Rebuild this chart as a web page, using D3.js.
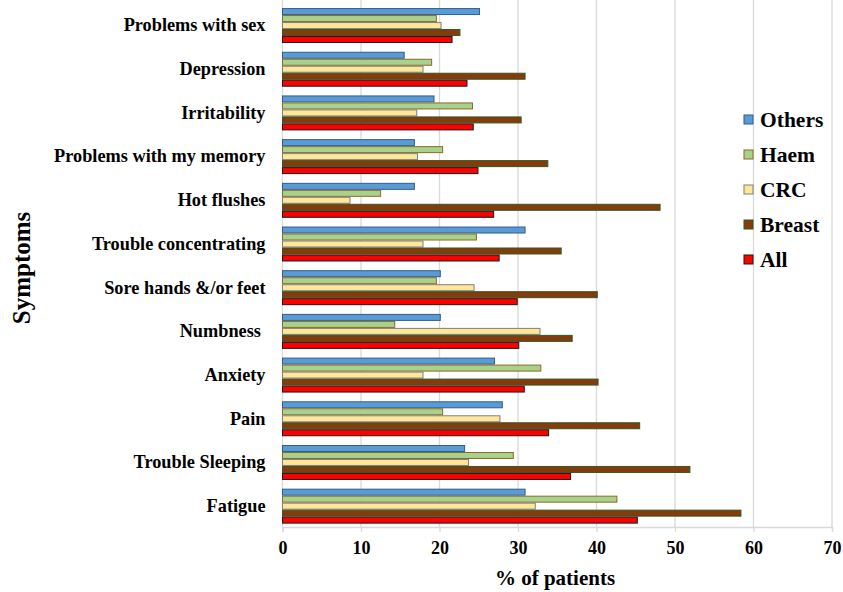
<!DOCTYPE html>
<html><head><meta charset="utf-8">
<script src="https://cdn.jsdelivr.net/npm/d3@7"></script>
<style>body{margin:0;background:#fff}svg{display:block}</style>
</head><body>
<script>
const categories = ["Problems with sex","Depression","Irritability","Problems with my memory","Hot flushes","Trouble concentrating","Sore hands &/or feet","Numbness ","Anxiety","Pain","Trouble Sleeping","Fatigue"];
const seriesNames = ["Others","Haem","CRC","Breast","All"];
const others = [25.1,15.5,19.3,16.8,16.8,30.9,20.1,20.1,27.0,28.0,23.2,30.9];
const haem   = [19.6,19.0,24.2,20.4,12.5,24.7,19.6,14.3,32.9,20.4,29.4,42.6];
const crc    = [20.2,17.9,17.1,17.2,8.6,17.9,24.4,32.8,17.9,27.7,23.7,32.2];
const breast = [22.6,30.9,30.4,33.8,48.1,35.5,40.1,36.9,40.2,45.5,51.9,58.4];
const all    = [21.6,23.5,24.3,24.9,26.9,27.6,29.9,30.1,30.8,33.9,36.7,45.2];
const xTicks = [0,10,20,30,40,50,60,70];

const seriesValues = [others,haem,crc,breast,all];
const fills = ["#5B9BD5","#A9D18E","#FFE699","#843C0C","#FF0000"];
const strokes = ["#2F5E8C","#8C6A1E","#7F7F7F","#375623","#1A1A1A"];
const FONT = "'Liberation Serif','Times New Roman',serif";

const W=843,H=592;
const svg=d3.select("body").append("svg").attr("width",W).attr("height",H);
const x=d3.scaleLinear().domain([0,70]).range([282.5,832]);
const y=d3.scaleBand().domain(categories).range([3.7,528]).paddingInner(0.2).paddingOuter(0.1);
const yi=d3.scaleBand().domain(seriesNames).range([0,y.bandwidth()]);

// gridlines
svg.append("g").selectAll("line").data(xTicks).join("line")
 .attr("x1",d=>x(d)).attr("x2",d=>x(d)).attr("y1",0).attr("y2",527)
 .attr("stroke","#d9d9d9").attr("stroke-width",1.3);

// bars
const g=svg.append("g");
categories.forEach((c,i)=>{
  seriesNames.forEach((s,j)=>{
    g.append("rect")
     .attr("x",x(0)).attr("y",y(c)+yi(s)+0.5)
     .attr("width",x(seriesValues[j][i])-x(0)).attr("height",yi.bandwidth()-1)
     .attr("fill",fills[j]).attr("stroke",strokes[j]).attr("stroke-width",1);
  });
});

// x axis
const xAxis=d3.axisBottom(x).tickValues(xTicks).tickSize(5).tickPadding(9).tickFormat(d3.format("d"));
const ax=svg.append("g").attr("transform","translate(0,527)").call(xAxis);
ax.select(".domain").attr("stroke","#d9d9d9").attr("stroke-width",1.3);
ax.selectAll(".tick line").attr("stroke","#d9d9d9").attr("stroke-width",1.3);
ax.selectAll("text").attr("font-family",FONT).attr("font-weight","bold").attr("font-size",18).attr("fill","#000");

// y axis labels
const yAxis=d3.axisLeft(y).tickSize(0).tickPadding(17);
const ay=svg.append("g").attr("transform",`translate(${x(0)},0)`).call(yAxis);
ay.select(".domain").remove();
ay.selectAll("text").attr("font-family",FONT).attr("font-weight","bold").attr("font-size",18.3).attr("fill","#000").style("white-space","pre");

// axis titles
svg.append("text").attr("x",555).attr("y",585).attr("text-anchor","middle")
 .attr("font-family",FONT).attr("font-weight","bold").attr("font-size",21).text("% of patients");
svg.append("text").attr("transform","translate(30,268) rotate(-90)").attr("text-anchor","middle")
 .attr("font-family",FONT).attr("font-weight","bold").attr("font-size",25).text("Symptoms");

// legend
const lg=svg.append("g");
seriesNames.forEach((s,j)=>{
  const ly=120+j*35;
  lg.append("rect").attr("x",744).attr("y",ly-5).attr("width",9).attr("height",9)
    .attr("fill",fills[j]).attr("stroke",strokes[j]).attr("stroke-width",1);
  lg.append("text").attr("x",760).attr("y",ly+7)
    .attr("font-family",FONT).attr("font-weight","bold").attr("font-size",21.5).text(s);
});
</script>
</body></html>
